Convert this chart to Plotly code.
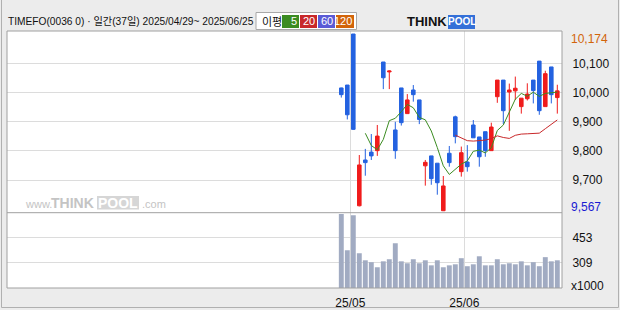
import plotly.graph_objects as go
import pandas as pd

# ---------------- data ----------------
DATES = ['2025-04-29', '2025-04-30', '2025-05-02', '2025-05-07', '2025-05-08', '2025-05-09',
         '2025-05-12', '2025-05-13', '2025-05-14', '2025-05-15', '2025-05-16', '2025-05-19',
         '2025-05-20', '2025-05-21', '2025-05-22', '2025-05-23', '2025-05-26', '2025-05-27',
         '2025-05-28', '2025-05-29', '2025-05-30', '2025-06-02', '2025-06-04', '2025-06-05',
         '2025-06-09', '2025-06-10', '2025-06-11', '2025-06-12', '2025-06-13', '2025-06-16',
         '2025-06-17', '2025-06-18', '2025-06-19', '2025-06-20', '2025-06-23', '2025-06-24',
         '2025-06-25']
OPEN = [9989, 9999, 10174, 9585, 9742, 9769, 9774, 10078, 10044, 9845, 9989, 9901, 9982, 9948,
        9722, 9756, 9731, 9568, 9765, 9890, 9702, 9735, 9862, 9821, 9839, 9774, 9959, 10016,
        9975, 9979, 9925, 9952, 10016, 10081, 9925, 10061, 9956]
HIGH = [9990, 9999, 10174, 9759, 9780, 9831, 9862, 10078, 10049, 9873, 9989, 9968, 9999, 9948,
        9742, 9756, 9731, 9687, 9790, 9894, 9788, 9793, 9879, 9821, 9839, 9870, 10016, 10016,
        10004, 10028, 9954, 10005, 10016, 10081, 10048, 10061, 10000]
LOW = [9956, 9881, 9845, 9583, 9688, 9742, 9756, 9985, 9985, 9746, 9860, 9901, 9942, 9865,
       9654, 9657, 9623, 9567, 9719, 9799, 9685, 9702, 9818, 9719, 9753, 9774, 9938, 9865,
       9842, 9948, 9901, 9946, 9936, 9897, 9925, 9936, 9901]
CLOSE = [9966, 9897, 9847, 9725, 9733, 9756, 9824, 10024, 10047, 9774, 9870, 9948, 9966, 9881,
         9734, 9678, 9664, 9653, 9733, 9822, 9767, 9719, 9818, 9753, 9774, 9855, 10016, 9911,
         9982, 9988, 9954, 9968, 9980, 9911, 10038, 9966, 9979]
VOLUME = [589, 382, 583, 365, 324, 313, 284, 318, 330, 422, 318, 307, 330, 307, 324, 295, 324,
          284, 295, 301, 336, 290, 301, 347, 295, 295, 330, 301, 307, 301, 318, 295, 313, 290,
          342, 318, 324]  # x1000
PRICE_TICKS = [10100, 10000, 9900, 9800, 9700]
VOLUME_TICKS = [453, 309]
MA_PERIODS = [5, 20, 60, 120]

# ---------------- style ----------------
W, H = 620, 310
L, R, T, B = 7, 58, 31, 22
PW, PH = W - L - R, H - T - B
VOL_FRAC = 0.293
TICK_OFFSET = -27          # the chart draws its labelled grid lines slightly below the nominal value
RED, BLUE = '#f01c1c', '#2462e0'
MA_COLORS = ['#3c8c22', '#c8282a', '#5a5ad6', '#d2640a']
VOL_COLOR = '#a1abc2'
GRID = '#dcdcdc'
BORDER = '#a0a0a0'
BG = '#ececec'
FONT = 'Liberation Sans, Noto Sans CJK KR, sans-serif'
KFONT = 'Noto Sans CJK KR, sans-serif'


def xp(px):
    return (px - L) / PW


def yp(py):
    return (H - B - py) / PH


X = list(range(len(DATES)))
close_s = pd.Series(CLOSE, dtype=float)
ma5 = close_s.rolling(5).mean()
ma20 = close_s.rolling(20).mean()

month_vals, month_text = [], []
for i in range(1, len(DATES)):
    if DATES[i][5:7] != DATES[i - 1][5:7]:
        month_vals.append(i - 0.5)
        month_text.append(DATES[i][2:4] + '/' + DATES[i][5:7])

# pixel geometry of the candles: index 0 at x=341.3, 6 px per day
x0_px, step = 341.3, 6.0
x_range = [-(x0_px - L) / step, (len(X) - 1) + ((L + PW) - (x0_px + step * (len(X) - 1))) / step]

hi, lo = max(HIGH), min(LOW)
units_per_px = 3.429
y_top = hi + (34 - T) * units_per_px
y_bot = hi - ((T + PH * (1 - VOL_FRAC)) - 34) * units_per_px

fig = go.Figure()
fig.add_trace(go.Candlestick(
    x=X, open=OPEN, high=HIGH, low=LOW, close=CLOSE,
    increasing=dict(line=dict(color=RED, width=1), fillcolor=RED),
    decreasing=dict(line=dict(color=BLUE, width=1), fillcolor=BLUE),
    whiskerwidth=0, showlegend=False, hoverinfo='skip', xaxis='x', yaxis='y'))
fig.add_trace(go.Scatter(x=X, y=ma5, mode='lines', line=dict(color=MA_COLORS[0], width=1),
                         showlegend=False, hoverinfo='skip', xaxis='x', yaxis='y'))
fig.add_trace(go.Scatter(x=X, y=ma20, mode='lines', line=dict(color=MA_COLORS[1], width=1),
                         showlegend=False, hoverinfo='skip', xaxis='x', yaxis='y'))
fig.add_trace(go.Bar(x=X, y=VOLUME, width=0.82, marker=dict(color=VOL_COLOR, line=dict(width=0)),
                     showlegend=False, hoverinfo='skip', xaxis='x', yaxis='y2'))

axis_font = dict(family=FONT, size=12, color='#111111')
fig.update_layout(
    width=W, height=H, autosize=False,
    margin=dict(l=L, r=R, t=T, b=B, pad=0, autoexpand=False),
    paper_bgcolor=BG, plot_bgcolor='white',
    boxgap=0.15,
    xaxis=dict(domain=[0, 1], range=x_range, anchor='y2', tickvals=month_vals, ticktext=month_text,
               showgrid=True, gridcolor=GRID, gridwidth=1, zeroline=False, showline=False,
               ticks='outside', ticklen=4, tickcolor='rgba(0,0,0,0)', tickfont=axis_font,
               rangeslider=dict(visible=False), fixedrange=True, automargin=False),
    yaxis=dict(domain=[VOL_FRAC, 1], range=[y_bot, y_top], anchor='x', side='right',
               tickvals=[t + TICK_OFFSET for t in PRICE_TICKS],
               ticktext=[f'{t:,}' for t in PRICE_TICKS],
               showgrid=True, gridcolor=GRID, gridwidth=1, zeroline=False, showline=False,
               ticks='outside', ticklen=7, tickcolor='rgba(0,0,0,0)', tickfont=axis_font,
               fixedrange=True, automargin=False),
    yaxis2=dict(domain=[0, VOL_FRAC], range=[165, 597], anchor='x', side='right',
                tickvals=VOLUME_TICKS, ticktext=[str(v) for v in VOLUME_TICKS],
                showgrid=True, gridcolor=GRID, gridwidth=1, zeroline=False, showline=False,
                ticks='outside', ticklen=7, tickcolor='rgba(0,0,0,0)', tickfont=axis_font,
                fixedrange=True, automargin=False),
)

shapes = [
    # plot frame and panel separator
    dict(type='rect', xref='paper', yref='paper', x0=0, x1=1, y0=0, y1=1,
         line=dict(color=BORDER, width=1), layer='above'),
    dict(type='line', xref='paper', yref='paper', x0=0, x1=1, y0=VOL_FRAC, y1=VOL_FRAC,
         line=dict(color=BORDER, width=1), layer='above'),
    # outer frame (left, right, bottom)
    dict(type='line', xref='paper', yref='paper', x0=xp(1.5), x1=xp(1.5), y0=yp(0), y1=yp(307.5),
         line=dict(color='#b0b0b0', width=1)),
    dict(type='line', xref='paper', yref='paper', x0=xp(618.5), x1=xp(618.5), y0=yp(0), y1=yp(307.5),
         line=dict(color='#b0b0b0', width=1)),
    dict(type='line', xref='paper', yref='paper', x0=xp(1.5), x1=xp(618.5), y0=yp(307.5), y1=yp(307.5),
         line=dict(color='#b0b0b0', width=1)),
    # MA legend box
    dict(type='rect', xref='paper', yref='paper', x0=xp(256), x1=xp(356.5), y0=yp(29.5), y1=yp(12.5),
         fillcolor='white', line=dict(color='#a8a8a8', width=1)),
]
legend_boxes = [(282, 299), (300, 317), (318, 335), (336, 354)]
for (a, b), c in zip(legend_boxes, MA_COLORS):
    shapes.append(dict(type='rect', xref='paper', yref='paper', x0=xp(a), x1=xp(b), y0=yp(28), y1=yp(15),
                       fillcolor=c, line=dict(width=0)))
# watermark POOL box
shapes.append(dict(type='rect', xref='paper', yref='paper', x0=xp(97), x1=xp(139), y0=yp(209.5), y1=yp(196),
                   fillcolor='#d6d6d6', line=dict(width=0), layer='below'))
# logo POOL box
shapes.append(dict(type='rect', xref='paper', yref='paper', x0=xp(448), x1=xp(475), y0=yp(29), y1=yp(15),
                   fillcolor='#3470d8', line=dict(width=0)))
fig.update_layout(shapes=shapes)

ann = []
title = f"TIMEFO(0036 0) · 일간({len(DATES)}일) {DATES[0].replace('-', '/')}~ {DATES[-1].replace('-', '/')}"
ann.append(dict(x=xp(6), y=yp(22), xref='paper', yref='paper', text=title, showarrow=False,
                xanchor='left', yanchor='middle', font=dict(family=FONT, size=10.2, color='#111111')))
ann.append(dict(x=xp(260), y=yp(21.5), xref='paper', yref='paper', text='이평', showarrow=False,
                xanchor='left', yanchor='middle', font=dict(family=KFONT, size=11, color='#111111')))
for (a, b), p in zip(legend_boxes, MA_PERIODS):
    ann.append(dict(x=xp(b - 0.5), y=yp(21.5), xref='paper', yref='paper', text=str(p), showarrow=False,
                    xanchor='right', yanchor='middle', font=dict(family=FONT, size=11, color='white')))
# logo
ann.append(dict(x=xp(405), y=yp(22), xref='paper', yref='paper', text='<b>THINK</b>', showarrow=False,
                xanchor='left', yanchor='middle', font=dict(family=FONT, size=13, color='#111111')))
ann.append(dict(x=xp(461.5), y=yp(22), xref='paper', yref='paper', text='<b>POOL</b>', showarrow=False,
                xanchor='center', yanchor='middle',
                font=dict(family=FONT, size=10, color='white')))
# watermark
ann.append(dict(x=xp(23), y=yp(204), xref='paper', yref='paper', text='www.', showarrow=False,
                xanchor='left', yanchor='middle', font=dict(family=FONT, size=11, color='#c4c4c4')))
ann.append(dict(x=xp(49), y=yp(202.5), xref='paper', yref='paper', text='<b>THINK</b>', showarrow=False,
                xanchor='left', yanchor='middle', font=dict(family=FONT, size=14, color='#c4c4c4')))
ann.append(dict(x=xp(118), y=yp(202.5), xref='paper', yref='paper', text='<b>POOL</b>', showarrow=False,
                xanchor='center', yanchor='middle', font=dict(family=FONT, size=14, color='white')))
ann.append(dict(x=xp(140), y=yp(204), xref='paper', yref='paper', text='.com', showarrow=False,
                xanchor='left', yanchor='middle', font=dict(family=FONT, size=11, color='#c4c4c4')))
# max / min labels and unit
ann.append(dict(x=xp(569), y=hi, xref='paper', yref='y', yshift=-5, text=f'{hi:,}', showarrow=False,
                xanchor='left', yanchor='middle', font=dict(family=FONT, size=12, color='#d2640a')))
ann.append(dict(x=xp(569), y=lo, xref='paper', yref='y', yshift=4, text=f'{lo:,}', showarrow=False,
                xanchor='left', yanchor='middle', font=dict(family=FONT, size=12, color='#1a1ad2')))
ann.append(dict(x=xp(569), y=yp(286), xref='paper', yref='paper', text='x1000', showarrow=False,
                xanchor='left', yanchor='middle', font=dict(family=FONT, size=12, color='#111111')))
fig.update_layout(annotations=ann)

fig.write_html("out.html", config={'displayModeBar': False})
